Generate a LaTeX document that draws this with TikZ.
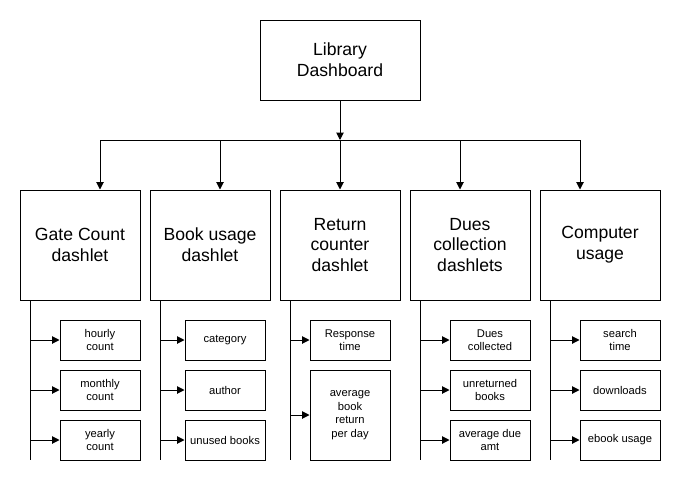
\documentclass[tikz,border=0pt]{standalone}
\usepackage{fontspec}
\setmainfont{Liberation Sans}
\usetikzlibrary{arrows.meta}
\begin{document}
\begin{tikzpicture}[x=0.75pt,y=-0.75pt,
  line width=0.75pt,
  arr/.style={-{Triangle[length=5.5pt,width=5.5pt]}},
  topbox/.style={draw,inner sep=0pt,minimum width=120pt,minimum height=60pt,align=center,font=\fontsize{13.2}{15.7}\selectfont},
  mainbox/.style={draw,inner sep=0pt,minimum width=90pt,minimum height=82.5pt,align=center,font=\fontsize{13.2}{15.7}\selectfont},
  subbox/.style={draw,inner sep=0pt,minimum width=60pt,minimum height=30pt,align=center,font=\fontsize{8.4}{10.2}\selectfont},
  tallbox/.style={subbox,minimum height=67.5pt}]
\useasboundingbox (0,0) rectangle (681,482);
% top
\node[topbox] (lib) at (340,60) {Library\\Dashboard};
% main boxes
\node[mainbox] (gate) at (80,245) {Gate Count\\dashlet};
\node[mainbox] (book) at (210,245) {Book usage\\dashlet};
\node[mainbox] (ret) at (340,245) {Return\\counter\\dashlet};
\node[mainbox] (dues) at (470,245) {Dues\\collection\\dashlets};
\node[mainbox] (comp) at (600,245) {Computer\\usage};
% bus
\coordinate (busL) at (100,140);
\coordinate (busM) at (340,140);
\coordinate (busR) at (580,140);
\draw[arr] (lib.south) -- (busM);
\draw (busL) -- (busR);
\draw[arr] (busL) -- (busL |- gate.north);
\draw[arr] (220,140) coordinate (busB) -- (busB |- book.north);
\draw[arr] (busM) -- (ret.north);
\draw[arr] (460,140) coordinate (busD) -- (busD |- dues.north);
\draw[arr] (busR) -- (busR |- comp.north);
% sub boxes
\node[subbox] (g1) at (100,340) {hourly\\count};
\node[subbox] (g2) at (100,390) {monthly\\count};
\node[subbox] (g3) at (100,440) {yearly\\count};
\node[subbox] (b1) at (225,340) {category};
\node[subbox] (b2) at (225,390) {author};
\node[subbox] (b3) at (225,440) {unused books};
\node[subbox] (r1) at (350,340) {Response\\time};
\node[tallbox] (r2) at (350,415) {average\\book\\return\\per day};
\node[subbox] (d1) at (490,340) {Dues\\collected};
\node[subbox] (d2) at (490,390) {unreturned\\books};
\node[subbox] (d3) at (490,440) {average due\\amt};
\node[subbox] (c1) at (620,340) {search\\time};
\node[subbox] (c2) at (620,390) {downloads};
\node[subbox] (c3) at (620,440) {ebook usage};
% trunks
\coordinate (gt) at (30,460);
\coordinate (bt) at (160,460);
\coordinate (rt) at (290,460);
\coordinate (dt) at (420,460);
\coordinate (ct) at (550,460);
\draw (gt |- gate.south) -- (gt);
\draw (bt |- book.south) -- (bt);
\draw (rt |- ret.south) -- (rt);
\draw (dt |- dues.south) -- (dt);
\draw (ct |- comp.south) -- (ct);
\foreach \b in {g1,g2,g3} \draw[arr] (gt |- \b.west) -- (\b.west);
\foreach \b in {b1,b2,b3} \draw[arr] (bt |- \b.west) -- (\b.west);
\foreach \b in {r1,r2} \draw[arr] (rt |- \b.west) -- (\b.west);
\foreach \b in {d1,d2,d3} \draw[arr] (dt |- \b.west) -- (\b.west);
\foreach \b in {c1,c2,c3} \draw[arr] (ct |- \b.west) -- (\b.west);
\end{tikzpicture}
\end{document}
